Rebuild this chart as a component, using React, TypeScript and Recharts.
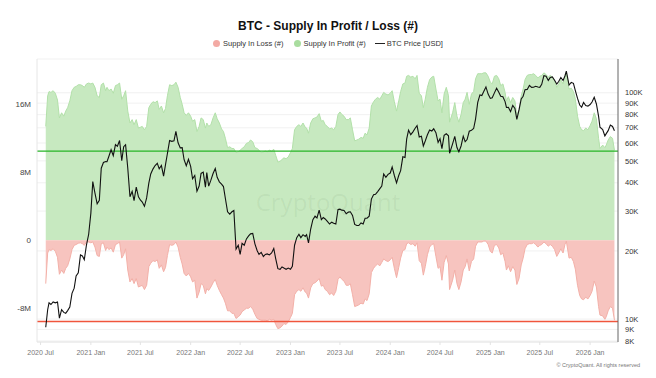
import React from "react";
import {
  ComposedChart, Area, Line, XAxis, YAxis, CartesianGrid, ReferenceLine,
} from "recharts";

// ---- data (supply in millions of BTC, price in thousands of USD), one line per month ----
const dates = [
  "2020-07-20", "2020-07-27",
  "2020-08-01", "2020-08-08", "2020-08-16", "2020-08-24",
  "2020-09-01", "2020-09-08", "2020-09-16", "2020-09-24",
  "2020-10-01", "2020-10-08", "2020-10-16", "2020-10-24",
  "2020-11-01", "2020-11-08", "2020-11-16", "2020-11-24",
  "2020-12-01", "2020-12-08", "2020-12-16", "2020-12-24",
  "2021-01-01", "2021-01-08", "2021-01-16", "2021-01-24",
  "2021-02-01", "2021-02-08", "2021-02-16", "2021-02-24",
  "2021-03-01", "2021-03-08", "2021-03-16", "2021-03-24",
  "2021-04-01", "2021-04-08", "2021-04-16", "2021-04-24",
  "2021-05-01", "2021-05-08", "2021-05-16", "2021-05-24",
  "2021-06-01", "2021-06-08", "2021-06-16", "2021-06-24",
  "2021-07-01", "2021-07-08", "2021-07-16", "2021-07-24",
  "2021-08-01", "2021-08-08", "2021-08-16", "2021-08-24",
  "2021-09-01", "2021-09-08", "2021-09-16", "2021-09-24",
  "2021-10-01", "2021-10-08", "2021-10-16", "2021-10-24",
  "2021-11-01", "2021-11-08", "2021-11-16", "2021-11-24",
  "2021-12-01", "2021-12-08", "2021-12-16", "2021-12-24",
  "2022-01-01", "2022-01-08", "2022-01-16", "2022-01-24",
  "2022-02-01", "2022-02-08", "2022-02-16", "2022-02-24",
  "2022-03-01", "2022-03-08", "2022-03-16", "2022-03-24",
  "2022-04-01", "2022-04-08", "2022-04-16", "2022-04-24",
  "2022-05-01", "2022-05-08", "2022-05-16", "2022-05-24",
  "2022-06-01", "2022-06-08", "2022-06-16", "2022-06-24",
  "2022-07-01", "2022-07-08", "2022-07-16", "2022-07-24",
  "2022-08-01", "2022-08-08", "2022-08-16", "2022-08-24",
  "2022-09-01", "2022-09-08", "2022-09-16", "2022-09-24",
  "2022-10-01", "2022-10-08", "2022-10-16", "2022-10-24",
  "2022-11-01", "2022-11-08", "2022-11-16", "2022-11-24",
  "2022-12-01", "2022-12-08", "2022-12-16", "2022-12-24",
  "2023-01-01", "2023-01-08", "2023-01-16", "2023-01-24",
  "2023-02-01", "2023-02-08", "2023-02-16", "2023-02-24",
  "2023-03-01", "2023-03-08", "2023-03-16", "2023-03-24",
  "2023-04-01", "2023-04-08", "2023-04-16", "2023-04-24",
  "2023-05-01", "2023-05-08", "2023-05-16", "2023-05-24",
  "2023-06-01", "2023-06-08", "2023-06-16", "2023-06-24",
  "2023-07-01", "2023-07-08", "2023-07-16", "2023-07-24",
  "2023-08-01", "2023-08-08", "2023-08-16", "2023-08-24",
  "2023-09-01", "2023-09-08", "2023-09-16", "2023-09-24",
  "2023-10-01", "2023-10-08", "2023-10-16", "2023-10-24",
  "2023-11-01", "2023-11-08", "2023-11-16", "2023-11-24",
  "2023-12-01", "2023-12-08", "2023-12-16", "2023-12-24",
  "2024-01-01", "2024-01-08", "2024-01-16", "2024-01-24",
  "2024-02-01", "2024-02-08", "2024-02-16", "2024-02-24",
  "2024-03-01", "2024-03-08", "2024-03-16", "2024-03-24",
  "2024-04-01", "2024-04-08", "2024-04-16", "2024-04-24",
  "2024-05-01", "2024-05-08", "2024-05-16", "2024-05-24",
  "2024-06-01", "2024-06-08", "2024-06-16", "2024-06-24",
  "2024-07-01", "2024-07-08", "2024-07-16", "2024-07-24",
  "2024-08-01", "2024-08-05", "2024-08-16", "2024-08-24",
  "2024-09-01", "2024-09-08", "2024-09-16", "2024-09-24",
  "2024-10-01", "2024-10-08", "2024-10-16", "2024-10-24",
  "2024-11-01", "2024-11-08", "2024-11-16", "2024-11-24",
  "2024-12-01", "2024-12-08", "2024-12-16", "2024-12-24",
  "2025-01-01", "2025-01-08", "2025-01-16", "2025-01-24",
  "2025-02-01", "2025-02-08", "2025-02-16", "2025-02-24",
  "2025-03-01", "2025-03-08", "2025-03-16", "2025-03-24",
  "2025-04-01", "2025-04-08", "2025-04-16", "2025-04-24",
  "2025-05-01", "2025-05-08", "2025-05-16", "2025-05-24",
  "2025-06-01", "2025-06-08", "2025-06-16", "2025-06-24",
  "2025-07-01", "2025-07-08", "2025-07-16", "2025-07-24",
  "2025-08-01", "2025-08-08", "2025-08-16", "2025-08-24",
  "2025-09-01", "2025-09-08", "2025-09-16", "2025-09-24",
  "2025-10-01", "2025-10-06", "2025-10-16", "2025-10-24",
  "2025-11-01", "2025-11-08", "2025-11-16", "2025-11-24",
  "2025-12-01", "2025-12-08", "2025-12-16", "2025-12-24",
  "2026-01-01", "2026-01-08", "2026-01-16", "2026-01-24",
  "2026-02-01", "2026-02-06", "2026-02-16", "2026-02-24",
  "2026-03-01", "2026-03-08", "2026-03-16", "2026-03-24", "2026-03-31",
];

const profit = [
  13.4, 17.0,
  17.5, 17.4, 17.6, 17.3,
  16.5, 14.4, 15.0, 14.6,
  15.2, 15.6, 16.4, 17.6,
  18.0, 18.1, 18.3, 18.3,
  18.2, 18.0, 18.4, 18.5,
  18.4, 18.5, 18.0, 17.0,
  16.8, 18.3, 18.5, 17.6,
  18.0, 17.6, 17.8, 17.3,
  18.2, 18.3, 18.5, 16.6,
  17.0, 17.6, 15.2, 13.8,
  14.2, 13.6, 14.2, 13.2,
  13.3, 13.4, 13.0, 13.4,
  15.6, 16.0, 16.3, 16.2,
  16.4, 15.4, 15.8, 15.0,
  15.5, 17.0, 18.3, 18.2,
  18.3, 18.6, 18.0, 16.8,
  16.0, 15.0, 14.7, 15.0,
  14.6, 14.0, 14.2, 12.8,
  13.4, 14.4, 14.2, 13.2,
  13.8, 13.4, 13.6, 14.4,
  15.0, 14.3, 13.8, 13.1,
  12.8, 12.0, 10.9, 11.0,
  10.8, 10.8, 10.3, 10.4,
  10.6, 10.8, 11.0, 11.4,
  11.5, 11.8, 11.6, 10.9,
  10.8, 10.6, 10.3, 10.4,
  10.5, 10.4, 10.6, 10.5,
  10.7, 10.0, 9.2, 9.3,
  9.5, 9.7, 9.6, 9.8,
  10.3, 10.8, 13.0, 13.4,
  13.6, 13.4, 13.8, 13.3,
  13.2, 12.6, 13.8, 14.3,
  14.4, 14.5, 14.9, 14.0,
  14.1, 13.6, 13.4, 13.1,
  13.2, 13.0, 13.4, 14.8,
  15.1, 14.8, 14.6, 14.2,
  14.2, 14.4, 13.0, 11.7,
  11.8, 11.9, 12.1, 12.0,
  12.6, 12.4, 13.2, 15.8,
  16.3, 16.6, 16.8, 16.6,
  17.0, 17.4, 17.2, 17.1,
  17.3, 17.6, 16.3, 15.2,
  16.4, 17.5, 18.4, 18.5,
  19.3, 19.4, 19.2, 19.3,
  19.0, 19.4, 17.3, 17.0,
  15.6, 16.6, 18.0, 18.9,
  19.2, 19.3, 17.8, 16.4,
  16.6, 15.0, 17.2, 18.0,
  17.0, 13.9, 15.0, 16.2,
  14.6, 13.9, 14.8, 16.2,
  16.6, 17.4, 16.0, 17.2,
  17.5, 19.0, 19.6, 19.6,
  19.6, 19.7, 19.7, 19.3,
  18.6, 18.4, 19.3, 19.4,
  19.0, 18.2, 18.4, 17.4,
  16.4, 16.9, 16.2, 16.8,
  16.4, 14.7, 15.4, 17.0,
  17.8, 18.9, 19.4, 19.5,
  19.5, 19.6, 19.4, 19.1,
  19.3, 19.4, 19.7, 19.5,
  19.2, 19.4, 19.2, 18.8,
  18.0, 18.4, 18.9, 18.4,
  19.4, 19.8, 17.8, 17.9,
  17.5, 16.6, 14.6, 13.4,
  13.0, 12.9, 13.2, 13.0,
  13.5, 14.0, 15.0, 14.3,
  12.0, 10.8, 11.2, 10.9,
  11.2, 11.8, 12.2, 12.0, 10.6,
];

const loss = [
  -5.1, -1.5,
  -1.1, -1.2, -1.0, -1.3,
  -2.0, -4.0, -3.5, -3.9,
  -3.3, -3.0, -2.2, -1.1,
  -0.6, -0.5, -0.35, -0.3,
  -0.4, -0.6, -0.2, -0.2,
  -0.3, -0.2, -0.8, -1.8,
  -1.9, -0.4, -0.3, -1.2,
  -0.8, -1.1, -0.9, -1.4,
  -0.5, -0.4, -0.2, -2.1,
  -1.7, -1.0, -3.5, -4.9,
  -4.5, -5.1, -4.5, -5.5,
  -5.4, -5.3, -5.8, -5.3,
  -3.1, -2.7, -2.4, -2.5,
  -2.3, -3.3, -2.9, -3.7,
  -3.2, -1.8, -0.5, -0.6,
  -0.5, -0.2, -0.8, -2.0,
  -2.8, -3.9, -4.2, -3.9,
  -4.3, -4.9, -4.7, -6.8,
  -6.1, -5.1, -5.3, -6.3,
  -5.7, -5.9, -5.5, -5.0,
  -4.6, -5.3, -5.9, -6.4,
  -6.8, -7.4, -8.3, -8.3,
  -8.6, -8.6, -9.2, -9.0,
  -8.8, -8.4, -8.2, -8.0,
  -8.0, -7.8, -8.1, -8.7,
  -9.2, -9.3, -9.4, -9.4,
  -9.4, -9.5, -9.3, -9.4,
  -9.3, -9.9, -10.4, -10.3,
  -10.1, -9.8, -9.9, -9.6,
  -9.1, -8.6, -6.4, -6.0,
  -5.8, -6.0, -5.6, -6.1,
  -6.2, -6.8, -5.6, -5.1,
  -5.0, -4.8, -4.5, -5.4,
  -5.3, -5.8, -6.0, -6.4,
  -6.2, -6.5, -6.0, -4.6,
  -4.3, -4.6, -4.8, -5.3,
  -5.3, -5.1, -6.4, -7.8,
  -7.7, -7.6, -7.4, -7.5,
  -6.9, -7.1, -6.3, -3.8,
  -3.3, -3.0, -2.8, -3.0,
  -2.6, -2.2, -2.4, -2.5,
  -2.3, -2.0, -3.3, -4.4,
  -3.2, -2.1, -1.2, -1.1,
  -0.4, -0.3, -0.5, -0.4,
  -0.7, -0.3, -2.4, -2.7,
  -4.1, -3.1, -1.7, -0.8,
  -0.5, -0.4, -1.9, -3.3,
  -3.1, -4.7, -2.6, -1.8,
  -2.8, -5.8, -4.7, -3.5,
  -5.1, -5.8, -4.9, -3.5,
  -3.1, -2.2, -3.6, -2.5,
  -2.2, -0.7, -0.2, -0.2,
  -0.2, -0.1, -0.1, -0.5,
  -1.3, -1.5, -0.6, -0.5,
  -0.9, -1.7, -1.5, -2.5,
  -3.5, -3.0, -3.7, -3.1,
  -3.5, -5.2, -4.5, -2.9,
  -2.1, -1.0, -0.5, -0.4,
  -0.4, -0.3, -0.5, -0.8,
  -0.6, -0.5, -0.2, -0.4,
  -0.7, -0.5, -0.7, -1.1,
  -1.9, -1.5, -1.0, -1.5,
  -0.5, -0.1, -2.1, -2.0,
  -2.5, -3.4, -5.3, -6.5,
  -6.9, -7.0, -6.7, -6.9,
  -6.5, -6.0, -4.8, -5.5,
  -7.8, -8.8, -8.9, -9.3,
  -9.0, -8.3, -7.8, -8.0, -9.4,
];

const price = [
  9.2, 11.0,
  11.8, 11.6, 11.9, 11.8,
  11.9, 10.1, 11.0, 10.7,
  10.6, 10.9, 11.3, 13.0,
  13.7, 15.5, 16.0, 19.2,
  19.0, 18.3, 21.3, 23.7,
  29.4, 40.5, 36.0, 32.3,
  33.5, 46.4, 49.2, 49.7,
  49.6, 52.4, 56.0, 52.7,
  59.0, 58.0, 61.5, 50.1,
  57.8, 58.9, 46.4, 34.7,
  36.7, 33.4, 38.3, 34.7,
  33.6, 32.9, 31.5, 34.3,
  39.9, 43.8, 46.0, 47.7,
  48.8, 46.1, 47.7, 42.8,
  48.1, 53.9, 61.5, 61.0,
  61.3, 67.5, 60.1, 57.1,
  57.2, 50.6, 47.6, 50.8,
  47.3, 41.7, 43.1, 36.7,
  38.7, 44.0, 44.6, 38.3,
  44.4, 38.7, 41.1, 44.0,
  46.3, 42.3, 40.4, 39.5,
  38.5, 34.1, 29.8, 29.1,
  29.8, 30.2, 20.4, 21.2,
  19.3, 21.6, 21.2, 22.6,
  23.3, 23.8, 23.9, 21.5,
  20.1, 19.3, 19.7, 18.9,
  19.3, 19.4, 19.2, 19.6,
  20.5, 18.5, 16.7, 16.6,
  17.0, 16.8, 16.6, 16.8,
  16.6, 17.1, 21.2, 22.9,
  23.7, 22.9, 23.6, 23.2,
  23.6, 21.7, 25.0, 27.5,
  28.5, 28.0, 30.3, 27.5,
  28.1, 27.7, 27.0, 26.3,
  26.8, 26.5, 26.3, 30.5,
  30.6, 30.3, 30.2, 29.2,
  29.7, 29.8, 28.7, 26.2,
  25.9, 25.9, 26.6, 26.3,
  27.9, 27.9, 28.5, 33.9,
  35.4, 35.6, 36.6, 37.7,
  38.7, 43.8, 42.3, 43.6,
  44.2, 47.0, 43.1, 40.0,
  43.1, 45.3, 52.1, 51.7,
  62.4, 68.3, 65.3, 67.2,
  69.7, 71.6, 63.8, 64.3,
  58.2, 61.2, 65.2, 68.5,
  67.8, 69.3, 66.6, 60.3,
  62.7, 56.7, 64.8, 65.9,
  64.6, 54.0, 59.5, 64.2,
  57.3, 54.8, 58.2, 64.3,
  60.8, 62.1, 67.6, 68.2,
  69.5, 76.5, 90.6, 97.9,
  97.3, 101.2, 106.1, 98.7,
  94.4, 95.0, 99.9, 104.8,
  100.6, 96.5, 96.1, 91.4,
  86.1, 86.2, 82.6, 88.0,
  85.2, 76.3, 84.0, 93.9,
  96.5, 103.2, 103.5, 107.8,
  105.6, 105.7, 106.8, 106.0,
  105.7, 108.9, 119.0, 118.4,
  113.3, 116.7, 117.5, 113.5,
  109.2, 112.1, 116.8, 113.3,
  118.6, 124.7, 108.2, 111.0,
  110.1, 102.3, 94.4, 88.3,
  86.3, 90.6, 87.8, 87.3,
  88.7, 91.0, 95.5, 89.2,
  78.6, 70.5, 68.8, 64.5,
  66.0, 68.0, 72.0, 71.0, 68.0,
];

const xTickDates = [
  "2020-07-01", "2021-01-01", "2021-07-01", "2022-01-01", "2022-07-01", "2023-01-01",
  "2023-07-01", "2024-01-01", "2024-07-01", "2025-01-01", "2025-07-01", "2026-01-01",
];
const xTickLabels = [
  "2020 Jul", "2021 Jan", "2021 Jul", "2022 Jan", "2022 Jul", "2023 Jan",
  "2023 Jul", "2024 Jan", "2024 Jul", "2025 Jan", "2025 Jul", "2026 Jan",
];
const supplyTicks = [-8, 0, 8, 16];
const priceTicks = [8, 9, 10, 20, 30, 40, 50, 60, 70, 80, 90, 100];

const profitLevel = 10.5;
const lossLevel = -9.55;

// ---- helpers ----
const toT = (s: string) => Date.UTC(+s.slice(0, 4), +s.slice(5, 7) - 1, +s.slice(8, 10));

const data = dates.map((d, i) => ({
  t: toT(d),
  profit: profit[i],
  loss: loss[i],
  price: price[i],
}));

const xTicks = xTickDates.map(toT);
const xLabel = (v: number) => xTickLabels[xTicks.indexOf(v)] ?? "";

const FONT = "'Liberation Sans', Arial, sans-serif";

export default function App() {
  return (
    <div
      style={{
        position: "absolute", left: 0, top: 0, width: 656, height: 378,
        background: "#fff", fontFamily: FONT, overflow: "hidden",
      }}
    >
      <div
        style={{
          position: "absolute", top: 19, left: 0, width: 656, textAlign: "center",
          fontSize: 12, fontWeight: 700, color: "#111",
        }}
      >
        BTC - Supply In Profit / Loss (#)
      </div>

      {/* legend */}
      <div
        style={{
          position: "absolute", top: 39, left: 0, width: 656, display: "flex",
          justifyContent: "center", alignItems: "center", fontSize: 7.5, color: "#333",
        }}
      >
        <span style={{ width: 7, height: 7, borderRadius: 4, background: "#f3aaa4", marginRight: 3 }} />
        <span style={{ marginRight: 10 }}>Supply In Loss (#)</span>
        <span style={{ width: 7, height: 7, borderRadius: 4, background: "#a9dd9f", marginRight: 3 }} />
        <span style={{ marginRight: 9 }}>Supply In Profit (#)</span>
        <span style={{ width: 10, height: 1, background: "#222", marginRight: 2 }} />
        <span>BTC Price [USD]</span>
      </div>

      <ComposedChart
        width={656}
        height={378}
        data={data}
        margin={{ top: 59, right: 0, left: 0, bottom: 0 }}
        style={{ position: "absolute", left: 0, top: 0 }}
      >
        <CartesianGrid yAxisId="price" vertical={false} stroke="#f1f1f1" />
        <XAxis
          dataKey="t"
          type="number"
          domain={[toT("2020-06-18"), toT("2026-04-13")]}
          ticks={xTicks}
          tickFormatter={xLabel}
          interval={0}
          height={36}
          tick={{ fontSize: 7, fill: "#777" }}
          tickLine={{ stroke: "#e3e3e3" }}
          tickSize={3}
          tickMargin={5}
          axisLine={{ stroke: "#e6e6e6" }}
        />
        <YAxis
          yAxisId="supply"
          orientation="left"
          type="number"
          domain={[-11.97, 21.33]}
          ticks={supplyTicks}
          interval={0}
          width={37}
          tick={{ fontSize: 8, fill: "#444" }}
          tickFormatter={(v: number) => (v === 0 ? "0" : `${v}M`)}
          tickLine={false}
          tickSize={4}
          tickMargin={2}
          axisLine={{ stroke: "#e6e6e6" }}
          allowDataOverflow
        />
        <YAxis
          yAxisId="price"
          orientation="right"
          type="number"
          scale="log"
          domain={[7.92, 141]}
          ticks={priceTicks}
          interval={0}
          width={38}
          tick={{ fontSize: 7.5, fill: "#333", textAnchor: "start" }}
          tickFormatter={(v: number) => `${v}K`}
          tickLine={false}
          tickSize={5}
          tickMargin={2}
          axisLine={{ stroke: "#666" }}
          allowDataOverflow
        />
        <Area
          yAxisId="supply"
          dataKey="profit"
          type="linear"
          baseValue={0}
          fill="#c7e9c0"
          fillOpacity={1}
          stroke="#b2e0a9"
          strokeWidth={1}
          isAnimationActive={false}
        />
        <Area
          yAxisId="supply"
          dataKey="loss"
          type="linear"
          baseValue={0}
          fill="#f7c4bf"
          fillOpacity={1}
          stroke="#f3b0a8"
          strokeWidth={1}
          isAnimationActive={false}
        />
        <ReferenceLine yAxisId="supply" y={profitLevel} stroke="#27b427" strokeWidth={1.2} />
        <ReferenceLine yAxisId="supply" y={lossLevel} stroke="#f0553c" strokeWidth={1.4} />
        <Line
          yAxisId="price"
          dataKey="price"
          type="linear"
          stroke="#111"
          strokeWidth={1.1}
          dot={false}
          isAnimationActive={false}
        />
      </ComposedChart>

      {/* watermark */}
      <div
        style={{
          position: "absolute", left: 0, top: 185, width: 656, textAlign: "center",
          fontSize: 24, fontFamily: "'Open Sans', sans-serif", color: "rgba(60,90,60,0.07)",
          pointerEvents: "none",
        }}
      >
        CryptoQuant
      </div>

      <div
        style={{
          position: "absolute", right: 16, top: 362, fontSize: 5.5, color: "#777",
        }}
      >
        © CryptoQuant. All rights reserved
      </div>
    </div>
  );
}
